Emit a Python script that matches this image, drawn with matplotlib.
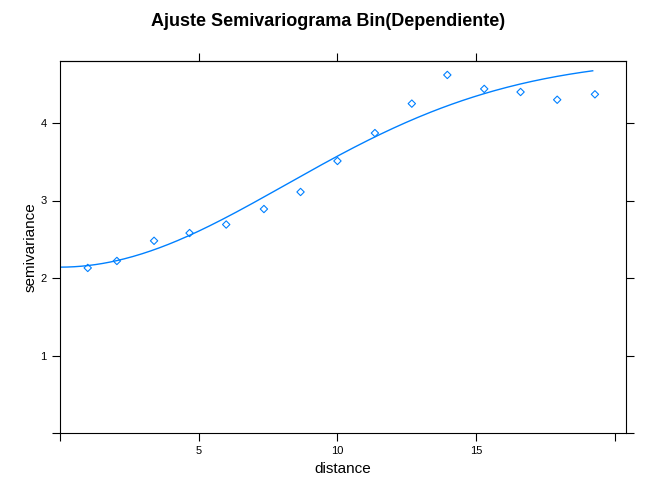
import numpy as np
import matplotlib
matplotlib.use("Agg")
import matplotlib.pyplot as plt
plt.rcParams['font.family'] = ['Liberation Sans', 'DejaVu Sans']

dist = [1.0, 2.05, 3.39, 4.67, 5.99, 7.35, 8.67, 10.0, 11.35, 12.68, 13.96, 15.29, 16.6, 17.92, 19.28]
gamma = [2.13, 2.22, 2.48, 2.58, 2.69, 2.89, 3.11, 3.51, 3.87, 4.25, 4.62, 4.44, 4.40, 4.30, 4.37]
# fitted Gaussian model parameters
nugget, psill, rng = 2.14, 2.7, 11.5
curve_max = 19.2

fig = plt.figure(figsize=(6.57, 5.03), dpi=100)
ax = fig.add_axes([60/657, 70/503, 566/657, 372/503])
h = np.linspace(0, curve_max, 300)
ax.plot(h, nugget + psill*(1-np.exp(-(h/rng)**2)), color='#0080ff', lw=1)
ax.scatter(dist, gamma, s=14, marker='D', facecolors='none', edgecolors='#0080ff', linewidths=0.8)
ax.set_xlim(0.18, 20.4)
ax.set_ylim(0.0, 4.8)
ax.set_xticks([0, 5, 10, 15, 20])
ax.set_xticklabels(['', '5', '10', '15', ''])
ax.set_yticks([0, 1, 2, 3, 4])
ax.set_yticklabels(['', '1', '2', '3', '4'])
ax.tick_params(direction='out', length=6, labelsize=8, top=True, right=True)
sec = ax.secondary_xaxis('top')
sec.set_xticks([5, 10, 15]); sec.set_xticklabels([])
sec.tick_params(direction='out', length=6)
ax.tick_params(axis='x', top=False)
for s in ax.spines.values():
    s.set_linewidth(0.8)
ax.set_xlabel('distance', fontsize=11)
ax.set_ylabel('semivariance', fontsize=11, labelpad=2)
fig.suptitle('Ajuste Semivariograma Bin(Dependiente)', fontsize=13, fontweight='bold', y=0.975)
fig.savefig('out.png', dpi=100)
